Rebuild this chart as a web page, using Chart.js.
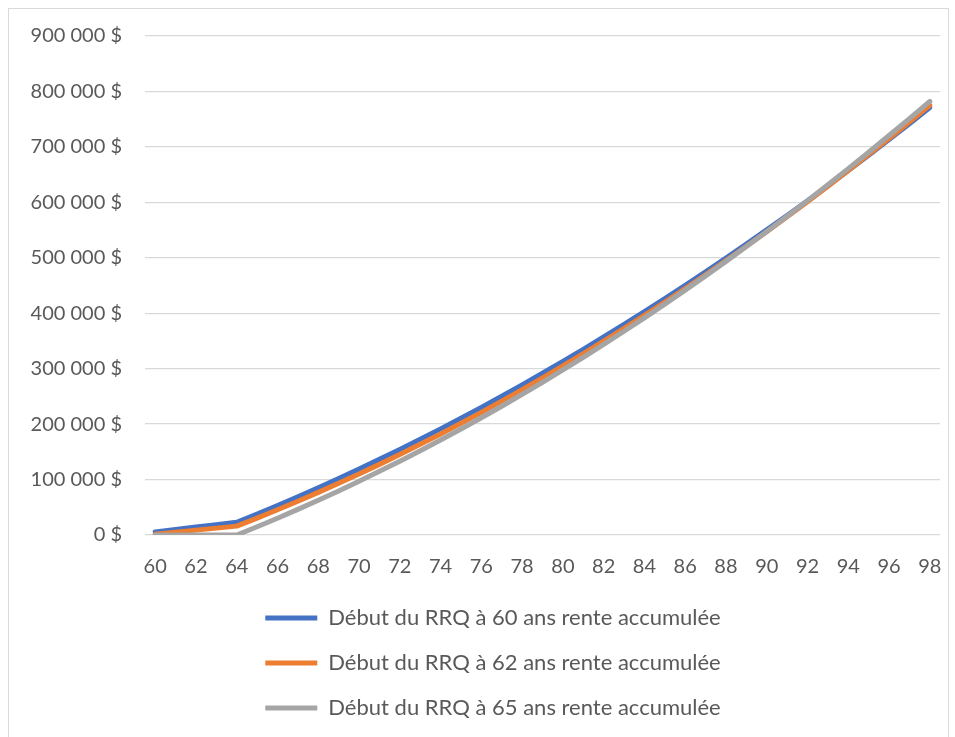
<!DOCTYPE html>
<html lang="fr">
<head>
<meta charset="utf-8">
<title>Rente RRQ accumulée</title>
<script src="https://cdn.jsdelivr.net/npm/chart.js@4/dist/chart.umd.min.js"></script>
<style>
  html, body { margin: 0; padding: 0; background: #ffffff; overflow: hidden; }
  body { width: 955px; height: 737px; position: relative; }
  #frame { position: absolute; left: 8px; top: 8px; width: 941px; height: 800px; border: 1px solid #d9d9d9; box-sizing: border-box; }
  #wrap { position: absolute; left: 0; top: 0; width: 955px; height: 770px; }
</style>
</head>
<body>
<div id="frame"></div>
<div id="wrap"><canvas id="chart"></canvas></div>
<script>
// Âges (années) de 60 à 98 ans
const ages = [60, 61, 62, 63, 64, 65, 66, 67, 68, 69, 70, 71, 72, 73, 74, 75, 76, 77, 78, 79,
              80, 81, 82, 83, 84, 85, 86, 87, 88, 89, 90, 91, 92, 93, 94, 95, 96, 97, 98];

// Rente accumulée ($) selon l'âge de début du RRQ
const rrq60 = [5500, 9900, 14300, 18600, 23000, 37900, 53200, 69000, 85200, 101800,
               118900, 136400, 154300, 172600, 191400, 210600, 230200, 250300, 270800, 291700,
               313100, 334900, 357100, 379700, 402800, 426300, 450200, 474600, 499400, 524600,
               550300, 576400, 602900, 629800, 657200, 685000, 713200, 741900, 771000];
const rrq62 = [1500, 5100, 8800, 12400, 16000, 30500, 45500, 60900, 76800, 93200,
               110100, 127400, 145200, 163500, 182300, 201500, 221200, 241400, 262100, 283200,
               304800, 326900, 349500, 372500, 396000, 420000, 444500, 469400, 494800, 520700,
               547100, 573900, 601200, 629000, 657300, 686000, 715200, 744900, 775100];
const rrq65 = [0, 0, 0, 0, 0, 14900, 30300, 46200, 62600, 79500,
               96900, 114800, 133200, 152100, 171400, 191200, 211500, 232300, 253600, 275400,
               297700, 320500, 343800, 367500, 391700, 416400, 441600, 467300, 493500, 520200,
               547400, 575000, 603100, 631700, 660800, 690400, 720500, 751100, 782200];

const seriesNames = [
  'Début du RRQ à 60 ans rente accumulée',
  'Début du RRQ à 62 ans rente accumulée',
  'Début du RRQ à 65 ans rente accumulée'
];

// Graduations de l'axe vertical
const yTicks = [0, 100000, 200000, 300000, 400000, 500000, 600000, 700000, 800000, 900000];

const textColor = '#595959';
const gridColor = '#d9d9d9';
const fontFamily = 'Lato, "Open Sans", sans-serif';

function formatDollars(v) {
  return String(v).replace(/\B(?=(\d{3})+(?!\d))/g, ' ') + ' $';
}

function lineSet(label, data, color, order) {
  return {
    label: label,
    data: data,
    borderColor: color,
    backgroundColor: color,
    borderWidth: 5,
    borderJoinStyle: 'round',
    borderCapStyle: 'round',
    pointRadius: 0,
    pointHoverRadius: 0,
    tension: 0,
    fill: false,
    order: order
  };
}

// Recentre la légende sous la zone de tracé
const legendShift = {
  id: 'legendShift',
  afterLayout: function (chart) {
    if (chart.legend) { chart.legend.left = 46; }
  }
};

new Chart(document.getElementById('chart'), {
  type: 'line',
  plugins: [legendShift],
  data: {
    labels: ages,
    datasets: [
      lineSet(seriesNames[0], rrq60, '#4472c4', 3),
      lineSet(seriesNames[1], rrq62, '#ed7d31', 2),
      lineSet(seriesNames[2], rrq65, '#a5a5a5', 1)
    ]
  },
  options: {
    responsive: true,
    maintainAspectRatio: false,
    animation: false,
    events: [],
    layout: { padding: { left: 0, right: 15, top: 36, bottom: 41 } },
    scales: {
      x: {
        type: 'category',
        offset: true,
        grid: { display: false, drawTicks: false },
        border: { display: false },
        ticks: {
          autoSkip: false,
          maxRotation: 0,
          padding: 20,
          color: textColor,
          font: { family: fontFamily, size: 20 },
          callback: function (value, index) {
            const age = ages[index];
            return age % 2 === 0 ? String(age) : null;
          }
        },
        afterFit: function (scale) {
          scale.height = 49;
          scale.paddingLeft = 0;
          scale.paddingRight = 0;
        }
      },
      y: {
        min: 0,
        max: 900000,
        grid: { color: gridColor, lineWidth: 1.3, drawTicks: false },
        border: { display: false },
        afterBuildTicks: function (scale) {
          scale.ticks = yTicks.map(function (v) { return { value: v }; });
        },
        ticks: {
          padding: 23,
          color: textColor,
          font: { family: fontFamily, size: 20 },
          callback: function (value) { return formatDollars(value); }
        },
        afterFit: function (scale) { scale.width = 145; }
      }
    },
    plugins: {
      tooltip: { enabled: false },
      legend: {
        display: true,
        position: 'bottom',
        align: 'center',
        labels: {
          usePointStyle: true,
          pointStyle: 'line',
          pointStyleWidth: 52,
          padding: 23,
          color: textColor,
          font: { family: fontFamily, size: 22 },
          sort: function (a, b) { return a.datasetIndex - b.datasetIndex; }
        }
      }
    }
  }
});
</script>
</body>
</html>
